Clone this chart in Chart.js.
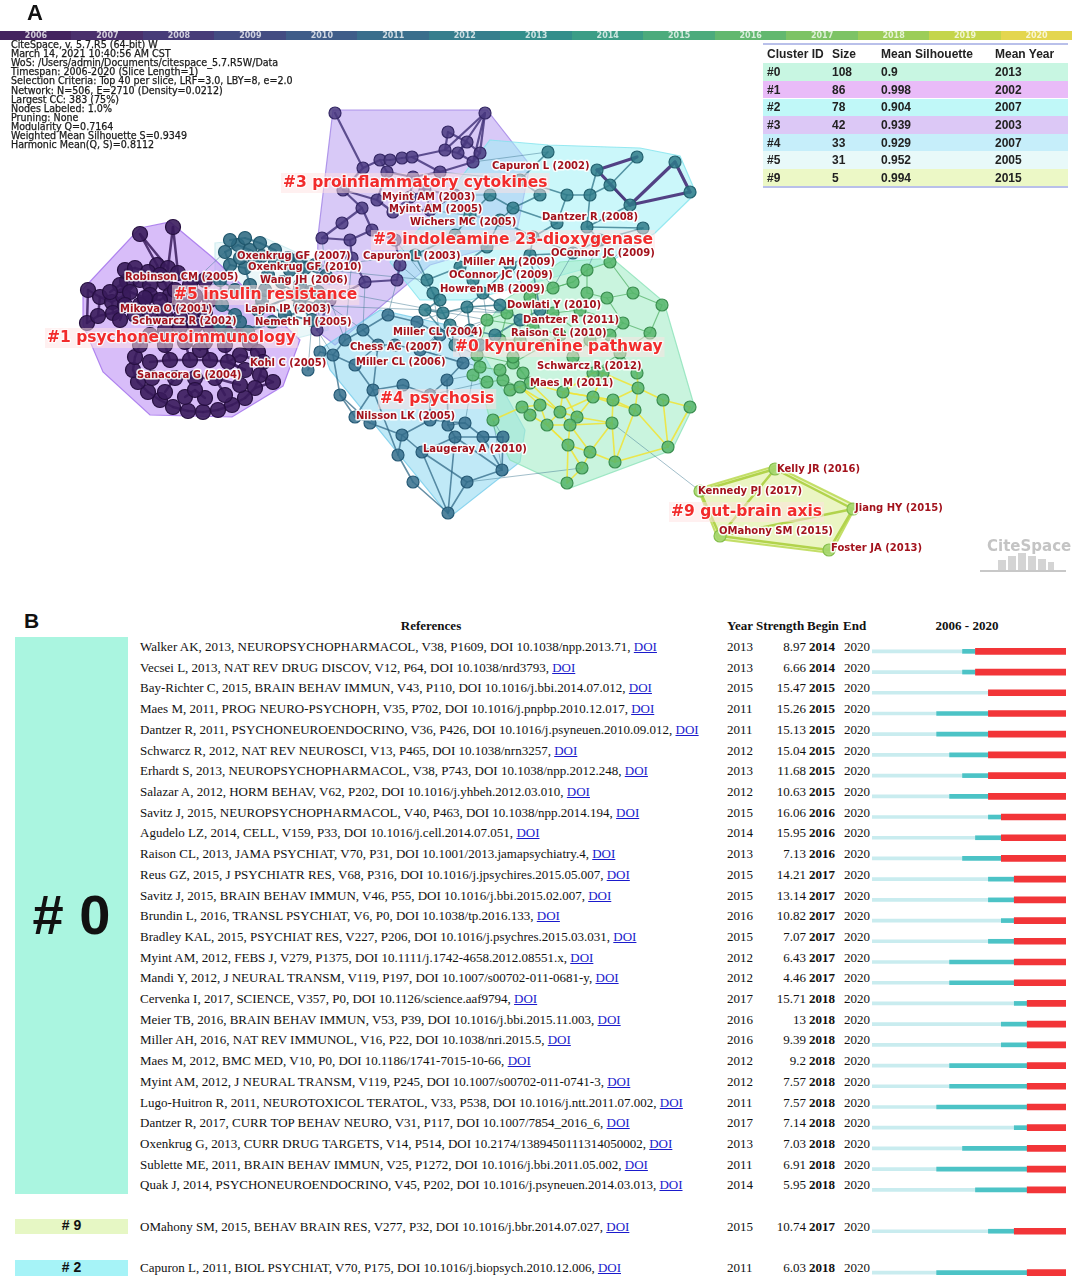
<!DOCTYPE html>
<html>
<head>
<meta charset="utf-8">
<script src="https://cdn.jsdelivr.net/npm/chart.js@4.4.1/dist/chart.umd.min.js"></script>
<style>
body{margin:0;background:#fff;width:1072px;height:1278px;overflow:hidden;position:relative;font-family:"Liberation Sans",Arial,sans-serif}
.abs{position:absolute;white-space:nowrap}
#net{position:absolute;left:0;top:0}
#burst{position:absolute;left:872px;top:641px}
.info{font-family:"DejaVu Sans Condensed","DejaVu Sans",sans-serif;font-size:10.6px;color:#1a1a1a;line-height:9.1px;-webkit-text-stroke:0.25px #1a1a1a}
.yr{font:bold 8px "DejaVu Sans",sans-serif;color:rgba(255,255,255,.75);text-align:center;line-height:9px}
.ct{font:bold 12px "Liberation Sans",Arial,sans-serif;color:#222;line-height:16px}
.ser{font-family:"Liberation Serif","Times New Roman",serif;font-size:13px;color:#111;line-height:16px}
.ser a{color:#1a1acc;text-decoration:underline}
</style>
</head>
<body>
<canvas id="net" width="1072" height="600"></canvas>
<canvas id="burst" width="194" height="642"></canvas>
<div id="overlay"></div>
<script>
// ---- panel A : timeline + summary ----
const years = ['2006','2007','2008','2009','2010','2011','2012','2013','2014','2015','2016','2017','2018','2019','2020'];
const yearColors = ['#44235f','#4a2f6c','#473b78','#434c82','#3f5d89','#3a6e8c','#367e8d','#338e8b','#3b9d86','#4cab7c','#62b86f','#7dc365','#9ccd58','#c4d54b','#e4d64f'];
const infoLines = [
  'CiteSpace, v. 5.7.R5 (64-bit) W',
  'March 14, 2021 10:40:56 AM CST',
  'WoS: /Users/admin/Documents/citespace_5.7.R5W/Data',
  'Timespan: 2006-2020 (Slice Length=1)',
  'Selection Criteria: Top 40 per slice, LRF=3.0, LBY=8, e=2.0',
  'Network: N=506, E=2710 (Density=0.0212)',
  'Largest CC: 383 (75%)',
  'Nodes Labeled: 1.0%',
  'Pruning: None',
  'Modularity Q=0.7164',
  'Weighted Mean Silhouette S=0.9349',
  'Harmonic Mean(Q, S)=0.8112'
];
const clusterIds = ['#0','#1','#2','#3','#4','#5','#9'];
const clusterSize = [108, 86, 78, 42, 33, 31, 5];
const clusterSil = ['0.9','0.998','0.904','0.939','0.929','0.952','0.994'];
const clusterYear = [2013, 2002, 2007, 2003, 2007, 2005, 2015];
const clusterRowColors = ['#c8f6e2','#e9bbf8','#c0f8f8','#dcc8f6','#c6eefa','#e8f9f9','#ecf8c6'];

// ---- panel A : network (positions) ----
const nodes = {
  c1: [[140,234],[173,227],[157,265],[168,268],[178,273],[127,281],[140,280],[150,285],[165,283],[190,285],
       [88,290],[100,297],[112,302],[123,296],[87,323],[98,316],[113,313],[150,295],[170,295],[195,296],
       [205,280],[210,300],[180,305],[140,305],
       [150,335],[165,330],[180,327],[195,326],[210,327],[225,330],[240,335],[250,343],[258,352],[263,362],
       [260,375],[255,388],[245,398],[232,405],[218,410],[203,412],[188,411],[173,407],[160,400],[148,392],
       [138,382],[133,370],[135,357],[140,345],
       [165,345],[185,342],[205,342],[225,345],[240,355],[245,370],[240,385],[225,395],[205,398],[185,397],
       [165,392],[152,378],[150,362],[170,360],[190,360],[210,360],[228,362],[175,378],[195,378],[215,378],
       [200,350],[195,390],[273,382],
       [125,270],[135,268],[148,272],[160,275],[120,285],[130,292],[145,298],[160,300],[175,290],[185,300],
       [195,310],[205,312],[125,305],[135,315],[150,318],[165,315],[180,318],[120,320],[110,292]],
  c5: [[225,252],[238,245],[250,250],[262,256],[230,265],[245,268],[275,262],[290,270],[305,268],[220,280],
       [235,290],[250,285],[300,285],[318,292],[222,305],[235,315],[220,325],[240,322],[300,305],[312,320],
       [285,315],[262,300],[326,276],
       [230,240],[245,238],[260,243],[275,250],[288,258],[300,258],[315,265],[240,258],[255,262],[268,275],
       [282,282],[296,295],[258,310],[272,322],[248,332],[230,335],[320,305],[310,292],[265,290]],
  c3: [[335,113],[485,113],[448,132],[467,142],[480,153],[363,168],[380,160],[390,160],[402,158],[412,157],
       [445,150],[458,153],[473,162],[343,190],[362,208],[342,223],[377,200],[393,212],[410,197],[322,238],
       [350,240],[400,265],[397,280],[387,172],[413,177],[440,172],[425,190],[455,195],[430,210],[372,230],
       [395,240],[352,258],[365,282],[330,300],[317,330]],
  c2: [[548,152],[637,157],[597,170],[675,162],[690,192],[630,205],[590,195],[567,195],[540,195],[490,195],
       [513,208],[643,228],[587,227],[557,223],[500,220],[533,237],[487,247],[573,253],[460,267],[427,280],
       [473,280],[433,293],[483,293],[443,313],[467,307],[520,180],[610,185],[455,235],[470,215],[600,240],
       [415,255],[510,265],[530,255],
       [450,325],[470,330],[495,335],[455,345],[520,320],[440,300],[500,305],[480,345],[540,310],[425,310]],
  c4: [[333,355],[355,365],[373,390],[355,417],[370,423],[402,435],[398,455],[422,452],[413,482],[448,513],
       [467,482],[502,470],[503,437],[483,437],[465,423],[448,425],[455,437],[430,420],[463,363],[447,380],
       [403,385],[388,315],[363,330],[417,322],[345,340],[378,345],[320,352],[308,370],[395,345],[420,350],
       [440,335],[430,395],[340,395]],
  c0: [[662,305],[623,323],[650,333],[638,388],[663,400],[690,407],[635,410],[613,400],[612,423],[593,397],
       [577,417],[570,425],[560,412],[547,425],[540,405],[530,415],[522,407],[493,420],[510,390],[530,383],
       [563,392],[568,445],[590,452],[615,462],[582,468],[567,483],[668,447],[473,375],[487,382],[503,380],
       [523,373],[513,363],[477,355],[603,373],[587,270],[610,262],[573,282],[633,293],[607,298],[587,293],
       [553,288],[530,297],[507,313],[487,320],[533,327],[553,313],[580,310],[620,353],[637,373],[593,373],
       [573,357],[513,357],[500,370],[480,367],[520,387],[545,345],[560,335],[520,340],[500,340],[590,340],
       [610,335]],
  c9: [[775,469],[700,491],[853,509],[720,536],[829,550]]
};
const edges = {
  c1: '0-2 0-3 1-3 1-4 2-8 3-8 4-9 5-6 6-7 10-11 11-12 12-13 13-6 10-14 14-15 15-16 16-17 17-18 18-19 19-21 20-9 11-15 12-16 16-23 23-22 22-19 7-17 8-18 24-25 25-26 26-27 27-28 28-29 29-30 30-31 31-32 32-33 33-34 34-35 35-36 36-37 37-38 38-39 39-40 40-41 41-42 42-43 43-44 44-45 45-46 46-47 47-24 48-61 49-62 50-63 51-64 52-64 53-64 54-67 55-67 56-69 57-69 58-65 59-65 60-61 61-62 62-63 63-64 64-53 65-66 66-67 68-50 68-49 52-33 70-35 70-34 71-72 72-73 73-74 75-76 76-77 77-78 78-79 79-80 80-81 81-82 83-84 84-85 85-86 86-87 88-83 89-75',
  c5: '0-1 1-2 2-3 0-4 4-5 3-6 6-7 7-8 4-9 9-10 10-11 11-5 8-12 12-13 9-14 14-15 15-16 16-17 17-15 13-18 18-19 19-20 20-21 21-11 22-8 23-24 24-25 25-26 26-27 27-28 28-29 30-31 31-32 32-33 33-34 34-35 36-37 37-38 38-39 40-41 41-39 27-40',
  c3: '0-5 1-10 1-11 1-12 1-4 2-10 3-11 4-12 5-6 6-7 7-8 8-9 9-10 10-11 11-12 5-13 13-14 14-15 13-16 16-17 17-18 18-24 23-6 23-24 24-25 25-12 26-24 26-27 27-28 28-17 14-29 29-30 30-21 21-22 15-19 19-20 20-29 20-31 31-32 32-33 33-34 22-32 16-23 18-26 26-28 9-25 2-3 3-4',
  c2: '0-25 25-7 7-6 6-2 6-26 26-1 26-5 8-25 9-10 10-8 10-13 13-7 12-6 12-5 12-11 13-15 15-17 17-29 29-11 14-10 14-16 16-27 27-28 28-9 16-18 18-19 19-30 30-27 20-22 22-24 24-23 23-21 21-19 20-18 31-32 32-15 31-22 15-14 12-29 17-32 33-34 34-35 35-37 33-36 36-40 40-35 37-41 39-37 38-42 42-23 38-21 39-22 34-24 33-23 36-42 41-32 39-24',
  c4: '0-1 1-2 2-3 3-4 4-5 5-6 6-8 8-9 9-10 10-11 11-12 12-13 13-14 14-15 15-16 16-7 7-5 7-10 9-7 17-5 17-14 15-19 19-18 18-29 29-30 30-23 23-21 21-22 22-24 24-0 0-26 26-27 25-28 28-29 20-2 20-31 31-17 31-19 32-3 32-0 2-25 1-25 22-25 12-16 11-16 9-16 6-2 4-32 13-11',
  c0: '35-34 34-36 35-37 37-0 0-2 2-1 1-38 38-39 39-34 36-40 40-41 41-42 42-43 43-44 44-45 45-46 46-1 37-38 2-47 47-48 48-3 47-49 49-50 50-56 56-55 55-57 57-58 58-51 51-52 52-53 53-32 32-31 31-30 30-19 29-28 28-27 29-54 54-18 59-60 60-1 59-50 56-44 45-59 57-44 40-36 41-44 42-58 43-32 31-55 51-30',
  c9: '0-1 0-2 2-4 4-3 3-1 3-2 0-3'
};
const thickEdges = 'c2:2>c2:1 c2:2>c2:5 c2:3>c2:4 c2:4>c2:5 c2:5>c2:3';
const recentEdges = '3-4 4-5 3-6 6-7 7-9 9-10 10-11 11-12 12-13 13-14 14-15 15-16 16-17 18-19 19-20 20-9 20-12 7-8 8-10 11-21 21-22 22-23 23-8 21-24 24-25 22-24 6-26 26-4 3-33 33-49 49-20 20-10 12-54 54-14 3-48 5-26 8-22 6-23 33-9 13-21 9-33 12-19 13-15 14-16 7-20 9-12 11-13 10-12 8-11 6-9 3-7 21-13 11-22 25-21 23-26';
const crossEdges = 'c1:9>c5:0 c1:19>c5:9 c1:21>c5:14 c1:21>c5:15 c5:13>c4:26 c5:19>c4:27 c5:22>c3:19 c3:34>c4:0 c3:33>c4:24 c3:22>c4:21 c3:32>c4:22 c3:31>c4:24 c3:12>c2:0 c3:25>c2:25 c3:27>c2:9 c3:28>c2:14 c3:30>c2:19 c3:21>c2:21 c2:23>c4:23 c2:21>c4:30 c2:24>c4:29 c2:23>c4:18 c2:17>c0:40 c2:29>c0:34 c2:11>c0:35 c2:31>c0:41 c2:22>c0:43 c2:24>c0:42 c2:32>c0:40 c4:18>c0:32 c4:29>c0:53 c4:30>c0:43 c4:12>c0:17 c4:11>c0:17 c4:14>c0:27 c4:19>c0:27 c4:31>c0:28 c4:10>c0:24 c5:7>c2:30 c5:12>c0:43 c5:8>c2:19 c5:18>c0:42 c5:12>c4:22 c2:35>c0:58 c2:37>c0:57 c2:40>c0:53 c2:41>c0:44 c2:36>c0:32 c2:34>c0:43 c0:8>c9:1';
const hulls = {
  c5: [[215,243],[265,238],[330,268],[328,330],[290,340],[215,330]],
  c1: [[140,228],[170,222],[212,257],[300,340],[283,386],[232,417],[150,415],[103,372],[83,325],[83,289]],
  c3: [[333,110],[487,110],[530,165],[515,240],[430,265],[335,345],[316,330],[318,236]],
  c4: [[322,348],[380,310],[470,330],[525,430],[520,462],[450,517],[330,370]],
  c2: [[490,140],[548,145],[640,148],[680,156],[696,193],[655,233],[610,262],[470,300],[420,300],[390,262],[440,205]],
  c0: [[560,262],[612,258],[664,302],[694,405],[672,450],[570,488],[510,460],[490,420],[470,345],[505,300]],
  c9: [[775,466],[856,506],[831,553],[718,539],[698,489]]
};
const nodeLabels = ['Capuron L (2002)','Myint AM (2003)','Myint AM (2005)','Wichers MC (2005)','Dantzer R (2008)',
  'OConnor JC (2009)','Oxenkrug GF (2007)','Capuron L (2003)','Oxenkrug GF (2010)','Miller AH (2009)',
  'Robinson CM (2005)','Wang JH (2006)','OConnor JC (2009)','Howren MB (2009)','Dowlati Y (2010)',
  'Mikova O (2001)','Lapin IP (2003)','Schwarcz R (2002)','Nemeth H (2005)','Dantzer R (2011)',
  'Miller CL (2004)','Raison CL (2010)','Chess AC (2007)','Miller CL (2006)','Kohl C (2005)',
  'Schwarcz R (2012)','Sanacora G (2004)','Maes M (2011)','Nilsson LK (2005)','Laugeray A (2010)',
  'Kelly JR (2016)','Kennedy PJ (2017)','Jiang HY (2015)','OMahony SM (2015)','Foster JA (2013)'];
const nodeLabelX = [492,382,389,410,542,551,237,363,248,463,125,260,449,440,507,120,245,132,255,523,393,511,350,356,250,537,137,530,356,423,777,698,855,719,831];
const nodeLabelY = [166,197,209,222,217,253,256,256,267,262,277,280,275,289,305,309,309,321,322,320,332,333,347,362,363,366,375,383,416,449,469,491,508,531,548];
const clusterLabels = ['#3 proinflammatory cytokines','#2 indoleamine 23-dioxygenase','#5 insulin resistance',
  '#1 psychoneuroimmunology','#0 kynurenine pathway','#4 psychosis','#9 gut-brain axis'];
const clusterLabelX = [283,373,174,47,455,380,671];
const clusterLabelY = [183,240,295,338,347,399,512];

// ---- panel B : citation bursts ----
const refs = [
 'Walker AK, 2013, NEUROPSYCHOPHARMACOL, V38, P1609, DOI 10.1038/npp.2013.71, ',
 'Vecsei L, 2013, NAT REV DRUG DISCOV, V12, P64, DOI 10.1038/nrd3793, ',
 'Bay-Richter C, 2015, BRAIN BEHAV IMMUN, V43, P110, DOI 10.1016/j.bbi.2014.07.012, ',
 'Maes M, 2011, PROG NEURO-PSYCHOPH, V35, P702, DOI 10.1016/j.pnpbp.2010.12.017, ',
 'Dantzer R, 2011, PSYCHONEUROENDOCRINO, V36, P426, DOI 10.1016/j.psyneuen.2010.09.012, ',
 'Schwarcz R, 2012, NAT REV NEUROSCI, V13, P465, DOI 10.1038/nrn3257, ',
 'Erhardt S, 2013, NEUROPSYCHOPHARMACOL, V38, P743, DOI 10.1038/npp.2012.248, ',
 'Salazar A, 2012, HORM BEHAV, V62, P202, DOI 10.1016/j.yhbeh.2012.03.010, ',
 'Savitz J, 2015, NEUROPSYCHOPHARMACOL, V40, P463, DOI 10.1038/npp.2014.194, ',
 'Agudelo LZ, 2014, CELL, V159, P33, DOI 10.1016/j.cell.2014.07.051, ',
 'Raison CL, 2013, JAMA PSYCHIAT, V70, P31, DOI 10.1001/2013.jamapsychiatry.4, ',
 'Reus GZ, 2015, J PSYCHIATR RES, V68, P316, DOI 10.1016/j.jpsychires.2015.05.007, ',
 'Savitz J, 2015, BRAIN BEHAV IMMUN, V46, P55, DOI 10.1016/j.bbi.2015.02.007, ',
 'Brundin L, 2016, TRANSL PSYCHIAT, V6, P0, DOI 10.1038/tp.2016.133, ',
 'Bradley KAL, 2015, PSYCHIAT RES, V227, P206, DOI 10.1016/j.psychres.2015.03.031, ',
 'Myint AM, 2012, FEBS J, V279, P1375, DOI 10.1111/j.1742-4658.2012.08551.x, ',
 'Mandi Y, 2012, J NEURAL TRANSM, V119, P197, DOI 10.1007/s00702-011-0681-y, ',
 'Cervenka I, 2017, SCIENCE, V357, P0, DOI 10.1126/science.aaf9794, ',
 'Meier TB, 2016, BRAIN BEHAV IMMUN, V53, P39, DOI 10.1016/j.bbi.2015.11.003, ',
 'Miller AH, 2016, NAT REV IMMUNOL, V16, P22, DOI 10.1038/nri.2015.5, ',
 'Maes M, 2012, BMC MED, V10, P0, DOI 10.1186/1741-7015-10-66, ',
 'Myint AM, 2012, J NEURAL TRANSM, V119, P245, DOI 10.1007/s00702-011-0741-3, ',
 'Lugo-Huitron R, 2011, NEUROTOXICOL TERATOL, V33, P538, DOI 10.1016/j.ntt.2011.07.002, ',
 'Dantzer R, 2017, CURR TOP BEHAV NEURO, V31, P117, DOI 10.1007/7854_2016_6, ',
 'Oxenkrug G, 2013, CURR DRUG TARGETS, V14, P514, DOI 10.2174/1389450111314050002, ',
 'Sublette ME, 2011, BRAIN BEHAV IMMUN, V25, P1272, DOI 10.1016/j.bbi.2011.05.002, ',
 'Quak J, 2014, PSYCHONEUROENDOCRINO, V45, P202, DOI 10.1016/j.psyneuen.2014.03.013, ',
 'OMahony SM, 2015, BEHAV BRAIN RES, V277, P32, DOI 10.1016/j.bbr.2014.07.027, ',
 'Capuron L, 2011, BIOL PSYCHIAT, V70, P175, DOI 10.1016/j.biopsych.2010.12.006, '
];
const refGroup = ['#0','#0','#0','#0','#0','#0','#0','#0','#0','#0','#0','#0','#0','#0','#0','#0','#0','#0','#0','#0','#0','#0','#0','#0','#0','#0','#0','#9','#2'];
const refYear = [2013,2013,2015,2011,2011,2012,2013,2012,2015,2014,2013,2015,2015,2016,2015,2012,2012,2017,2016,2016,2012,2012,2011,2017,2013,2011,2014,2015,2011];
const strength = [8.97,6.66,15.47,15.26,15.13,15.04,11.68,10.63,16.06,15.95,7.13,14.21,13.14,10.82,7.07,6.43,4.46,15.71,13,9.39,9.2,7.57,7.57,7.14,7.03,6.91,5.95,10.74,6.03];
const beginYear = [2014,2014,2015,2015,2015,2015,2015,2015,2016,2016,2016,2017,2017,2017,2017,2017,2017,2018,2018,2018,2018,2018,2018,2018,2018,2018,2018,2017,2018];
const endYear = [2020,2020,2020,2020,2020,2020,2020,2020,2020,2020,2020,2020,2020,2020,2020,2020,2020,2020,2020,2020,2020,2020,2020,2020,2020,2020,2020,2020,2020];
const groupColors = {'#0':'#aaf5e0','#9':'#e6f7c4','#2':'#a6f3f7'};

// ---------------- build overlay text ----------------
const ov = document.getElementById('overlay');
function add(html, css, cls) {
  const d = document.createElement('div');
  d.className = 'abs ' + (cls || '');
  d.style.cssText = css;
  d.innerHTML = html;
  ov.appendChild(d);
  return d;
}
add('A', 'left:27px;top:0px;font:bold 22px "Liberation Sans",Arial;color:#111');
const segW = 1072 / years.length;
years.forEach((y, i) => {
  add(y, `left:${i*segW}px;top:31px;width:${segW+0.5}px;height:9px;background:${yearColors[i]}`, 'yr');
});
infoLines.forEach((t, i) => add(t, `left:11px;top:${40 + i*9.1}px`, 'info'));

// cluster summary table
add('', 'left:763px;top:43px;width:305px;height:2px;background:#b9c0ea');
add('', 'left:763px;top:186px;width:305px;height:2px;background:#b9c0ea');
const ctCols = [767, 832, 881, 995];
['Cluster ID','Size','Mean Silhouette','Mean Year'].forEach((h, j) => add(h, `left:${ctCols[j]}px;top:46px`, 'ct'));
clusterIds.forEach((id, i) => {
  const top = 63.3 + i*17.6;
  add('', `left:763px;top:${top}px;width:305px;height:17.6px;background:${clusterRowColors[i]}`);
  [id, clusterSize[i], clusterSil[i], clusterYear[i]].forEach((v, j) => add(v, `left:${ctCols[j]}px;top:${top+0.8}px`, 'ct'));
});

// citespace logo
add('CiteSpace', 'left:987px;top:537px;font:bold 15px "DejaVu Sans",sans-serif;color:#c4c4c4');
[[998,560,8],[1008,556,8],[1018,553,8],[1028,556,8],[1038,559,8],[1048,562,6]].forEach(b =>
  add('', `left:${b[0]}px;top:${b[1]}px;width:${b[2]}px;height:${570-b[1]}px;background:#d4d4d4`));
add('', 'left:980px;top:570px;width:86px;height:2px;background:#c8c8c8');

// panel B headers
add('B', 'left:24px;top:609px;font:bold 21px "Liberation Sans",Arial;color:#111');
add('<b>References</b>', 'left:331px;top:618px;width:200px;text-align:center', 'ser');
add('<b>Year</b>', 'left:727px;top:618px', 'ser');
add('<b>Strength</b>', 'left:756px;top:618px', 'ser');
add('<b>Begin</b>', 'left:807px;top:618px', 'ser');
add('<b>End</b>', 'left:843px;top:618px', 'ser');
add('<b>2006 - 2020</b>', 'left:917px;top:618px;width:100px;text-align:center', 'ser');

// slots: a blank slot between groups
const slotLabels = [];
const refSlot = [];
refs.forEach((r, i) => {
  if (i > 0 && refGroup[i] !== refGroup[i-1]) slotLabels.push('');
  refSlot.push(slotLabels.length);
  slotLabels.push(r.split(',')[0]);
});
const slotTop = 636.65, slotH = 642 / slotLabels.length;

// group blocks
const groups = [...new Set(refGroup)];
groups.forEach(g => {
  const s = refSlot.filter((_, i) => refGroup[i] === g);
  const first = s[0], last = s[s.length - 1];
  const top = g === '#0' ? slotTop : slotTop + first*slotH + 2;
  const bottom = g === '#0' ? slotTop + (last+1)*slotH - 2 : slotTop + (last+1)*slotH - 3;
  add('', `left:15px;top:${top}px;width:113px;height:${bottom-top}px;background:${groupColors[g]}`);
  const big = g === '#0';
  add(g.replace('#', '# '), `left:15px;width:113px;text-align:center;top:${(top+bottom)/2 - (big?33:9)}px;font:bold ${big?56:14}px "Liberation Sans",Arial;color:#111`);
});

refs.forEach((r, i) => {
  const c = slotTop + (refSlot[i] + 0.5) * slotH;
  const t = c - 8;
  add(r + '<a>DOI</a>', `left:140px;top:${t}px`, 'ser');
  add(refYear[i], `left:727px;top:${t}px`, 'ser');
  add(strength[i], `left:746px;top:${t}px;width:60px;text-align:right`, 'ser');
  add('<b>' + beginYear[i] + '</b>', `left:809px;top:${t}px`, 'ser');
  add(endYear[i], `left:844px;top:${t}px`, 'ser');
});

// ---------------- network chart ----------------
const parsePairs = s => s.trim().split(/\s+/).map(p => p.split('-').map(Number));
const parseRefs = s => s.trim().split(/\s+/).map(p => p.split('>').map(q => { const [k, i] = q.split(':'); return nodes[k][+i]; }));

const nodeStyle = {
  c5: {fill:'rgba(45,106,130,0.88)', line:'#1f566c', r:6.5, edge:'rgba(40,100,125,0.8)', w:2},
  c1: {fill:'rgba(58,28,92,0.9)', line:'#260f40', r:7.5, edge:'rgba(58,28,92,0.85)', w:2.5},
  c3: {fill:'rgba(74,58,128,0.85)', line:'#352866', r:6, edge:'rgba(70,55,125,0.85)', w:2.2},
  c4: {fill:'rgba(53,111,140,0.85)', line:'#265a76', r:6, edge:'rgba(50,105,135,0.75)', w:1.6},
  c2: {fill:'rgba(47,123,138,0.85)', line:'#246270', r:6, edge:'rgba(45,115,135,0.75)', w:1.6},
  c0: {fill:'rgba(85,181,106,0.85)', line:'#3b8f50', r:6, edge:'rgba(80,175,100,0.7)', w:1.2},
  c9: {fill:'rgba(165,214,110,0.9)', line:'#86bf4c', r:6, edge:'rgba(175,210,70,0.95)', w:2.5}
};
const hullStyle = {
  c5: ['rgba(225,243,246,0.7)', 'rgba(205,236,240,0.9)'],
  c1: ['rgba(190,145,245,0.6)', 'rgba(160,110,235,0.8)'],
  c3: ['rgba(190,165,242,0.6)', 'rgba(160,130,230,0.8)'],
  c4: ['rgba(140,215,240,0.55)', 'rgba(120,205,235,0.8)'],
  c2: ['rgba(160,240,246,0.55)', 'rgba(130,228,238,0.8)'],
  c0: ['rgba(165,236,200,0.6)', 'rgba(140,226,185,0.8)'],
  c9: ['rgba(228,242,175,0.75)', 'rgba(190,220,90,0.9)']
};
const order = ['c5','c1','c3','c4','c2','c0','c9'];

const netPlugin = {
  id: 'netPlugin',
  beforeDatasetsDraw(chart) {
    const {ctx, scales: {x, y}} = chart;
    const P = p => [x.getPixelForValue(p[0]), y.getPixelForValue(p[1])];
    ctx.save();
    order.forEach(k => {
      ctx.beginPath();
      hulls[k].forEach((p, i) => { const [a, b] = P(p); i ? ctx.lineTo(a, b) : ctx.moveTo(a, b); });
      ctx.closePath();
      ctx.fillStyle = hullStyle[k][0];
      ctx.strokeStyle = hullStyle[k][1];
      ctx.lineWidth = k === 'c9' ? 2 : 1.2;
      ctx.fill(); ctx.stroke();
    });
    const line = (a, b, col, w) => {
      const [x1, y1] = P(a), [x2, y2] = P(b);
      ctx.beginPath(); ctx.moveTo(x1, y1); ctx.lineTo(x2, y2);
      ctx.strokeStyle = col; ctx.lineWidth = w; ctx.stroke();
    };
    ctx.lineCap = 'round';
    parseRefs(crossEdges).forEach(([a, b]) => line(a, b, 'rgba(70,125,150,0.5)', 1));
    order.forEach(k => parsePairs(edges[k]).forEach(([i, j]) => line(nodes[k][i], nodes[k][j], nodeStyle[k].edge, nodeStyle[k].w)));
    parsePairs(recentEdges).forEach(([i, j]) => line(nodes.c0[i], nodes.c0[j], 'rgba(238,228,60,0.9)', 1.6));
    parseRefs(thickEdges).forEach(([a, b]) => line(a, b, 'rgba(70,45,120,0.9)', 3.2));
    ctx.restore();
  },
  afterDatasetsDraw(chart) {
    const {ctx, scales: {x, y}} = chart;
    ctx.save();
    ctx.textBaseline = 'middle';
    ctx.lineJoin = 'round';
    ctx.font = 'bold 15.5px "DejaVu Sans", sans-serif';
    clusterLabels.forEach((t, i) => {
      const px = x.getPixelForValue(clusterLabelX[i]), py = y.getPixelForValue(clusterLabelY[i]);
      const w = ctx.measureText(t).width;
      ctx.fillStyle = 'rgba(255,225,225,0.5)';
      ctx.fillRect(px - 2, py - 10, w + 4, 20);
      ctx.strokeStyle = 'rgba(255,255,255,0.8)'; ctx.lineWidth = 2.5;
      ctx.strokeText(t, px, py);
      ctx.fillStyle = '#f22b2b';
      ctx.fillText(t, px, py);
    });
    ctx.font = 'bold 10px "DejaVu Sans", sans-serif';
    nodeLabels.forEach((t, i) => {
      const px = x.getPixelForValue(nodeLabelX[i]), py = y.getPixelForValue(nodeLabelY[i]);
      ctx.strokeStyle = 'rgba(255,255,255,0.9)'; ctx.lineWidth = 3;
      ctx.strokeText(t, px, py);
      ctx.fillStyle = '#a3121c';
      ctx.fillText(t, px, py);
    });
    ctx.restore();
  }
};

new Chart(document.getElementById('net'), {
  type: 'scatter',
  data: {
    datasets: order.map(k => ({
      label: k,
      data: nodes[k].map(p => ({x: p[0], y: p[1]})),
      pointRadius: nodeStyle[k].r,
      backgroundColor: nodeStyle[k].fill,
      borderColor: nodeStyle[k].line,
      borderWidth: 1.2,
      clip: false
    }))
  },
  options: {
    responsive: false,
    animation: false,
    events: [],
    layout: {padding: 0, autoPadding: false},
    plugins: {legend: {display: false}, tooltip: {enabled: false}},
    scales: {
      x: {type: 'linear', min: 0, max: 1072, display: false},
      y: {type: 'linear', min: 0, max: 600, reverse: true, display: false}
    }
  },
  plugins: [netPlugin]
});

// ---------------- burst bars ----------------
const slotVal = arr => slotLabels.map((_, s) => { const i = refSlot.indexOf(s); return i < 0 ? null : arr(i); });
new Chart(document.getElementById('burst'), {
  type: 'bar',
  data: {
    labels: slotLabels,
    datasets: [
      {data: slotVal(i => [2006, refYear[i]]), backgroundColor: '#c9ecef', barThickness: 3, grouped: false, order: 3},
      {data: slotVal(i => [refYear[i], beginYear[i]]), backgroundColor: '#4cc3c6', barThickness: 4, grouped: false, order: 2},
      {data: slotVal(i => [beginYear[i], endYear[i] + 1]), backgroundColor: '#f23538', barThickness: 6, grouped: false, order: 1}
    ]
  },
  options: {
    indexAxis: 'y',
    responsive: false,
    animation: false,
    events: [],
    layout: {padding: 0, autoPadding: false},
    plugins: {legend: {display: false}, tooltip: {enabled: false}},
    scales: {
      x: {min: 2006, max: 2021, display: false},
      y: {display: false}
    }
  }
});
</script>
</body>
</html>
